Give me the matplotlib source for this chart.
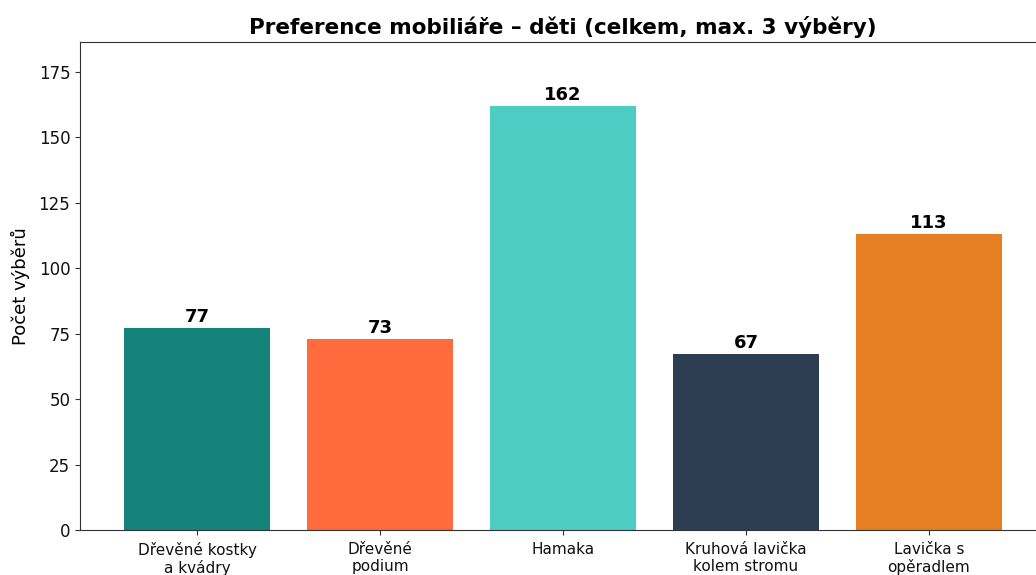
import matplotlib.pyplot as plt

# Données
kategorie = ["Dřevěné kostky\na kvádry", "Dřevěné\npodium", "Hamaka",
             "Kruhová lavička\nkolem stromu", "Lavička s\nopěradlem"]
hodnoty = [77, 73, 162, 67, 113]
barvy = ["#16837A", "#FF6B3D", "#4ECDC4", "#2E3E52", "#E67E22"]

fig = plt.figure(figsize=(10.36, 5.75), dpi=100)
# the reference is cropped on the right and bottom
ax = fig.add_axes([80 / 1036, 45 / 575, 966 / 1036, 488 / 575])

bars = ax.bar(range(len(kategorie)), hodnoty, color=barvy, width=0.8)
for b, v in zip(bars, hodnoty):
    ax.text(b.get_x() + b.get_width() / 2, v + 0.8, str(v),
            ha="center", va="bottom", fontsize=13, fontweight="bold")

ax.set_xticks(range(len(kategorie)))
ax.set_xticklabels(kategorie, fontsize=11)
ax.tick_params(axis="y", labelsize=12)
ax.tick_params(axis="x", pad=5)
ax.tick_params(colors="#333333", labelcolor="#111111")
for s in ax.spines.values():
    s.set_color("#333333")
ax.set_ylim(0, max(hodnoty) * 1.15)
ax.set_ylabel("Počet výběrů", fontsize=13, labelpad=6)
ax.set_title("Preference mobiliáře – děti (celkem, max. 3 výběry)",
             fontsize=15.5, fontweight="bold", pad=6)

fig.savefig("out.png", dpi=100)
